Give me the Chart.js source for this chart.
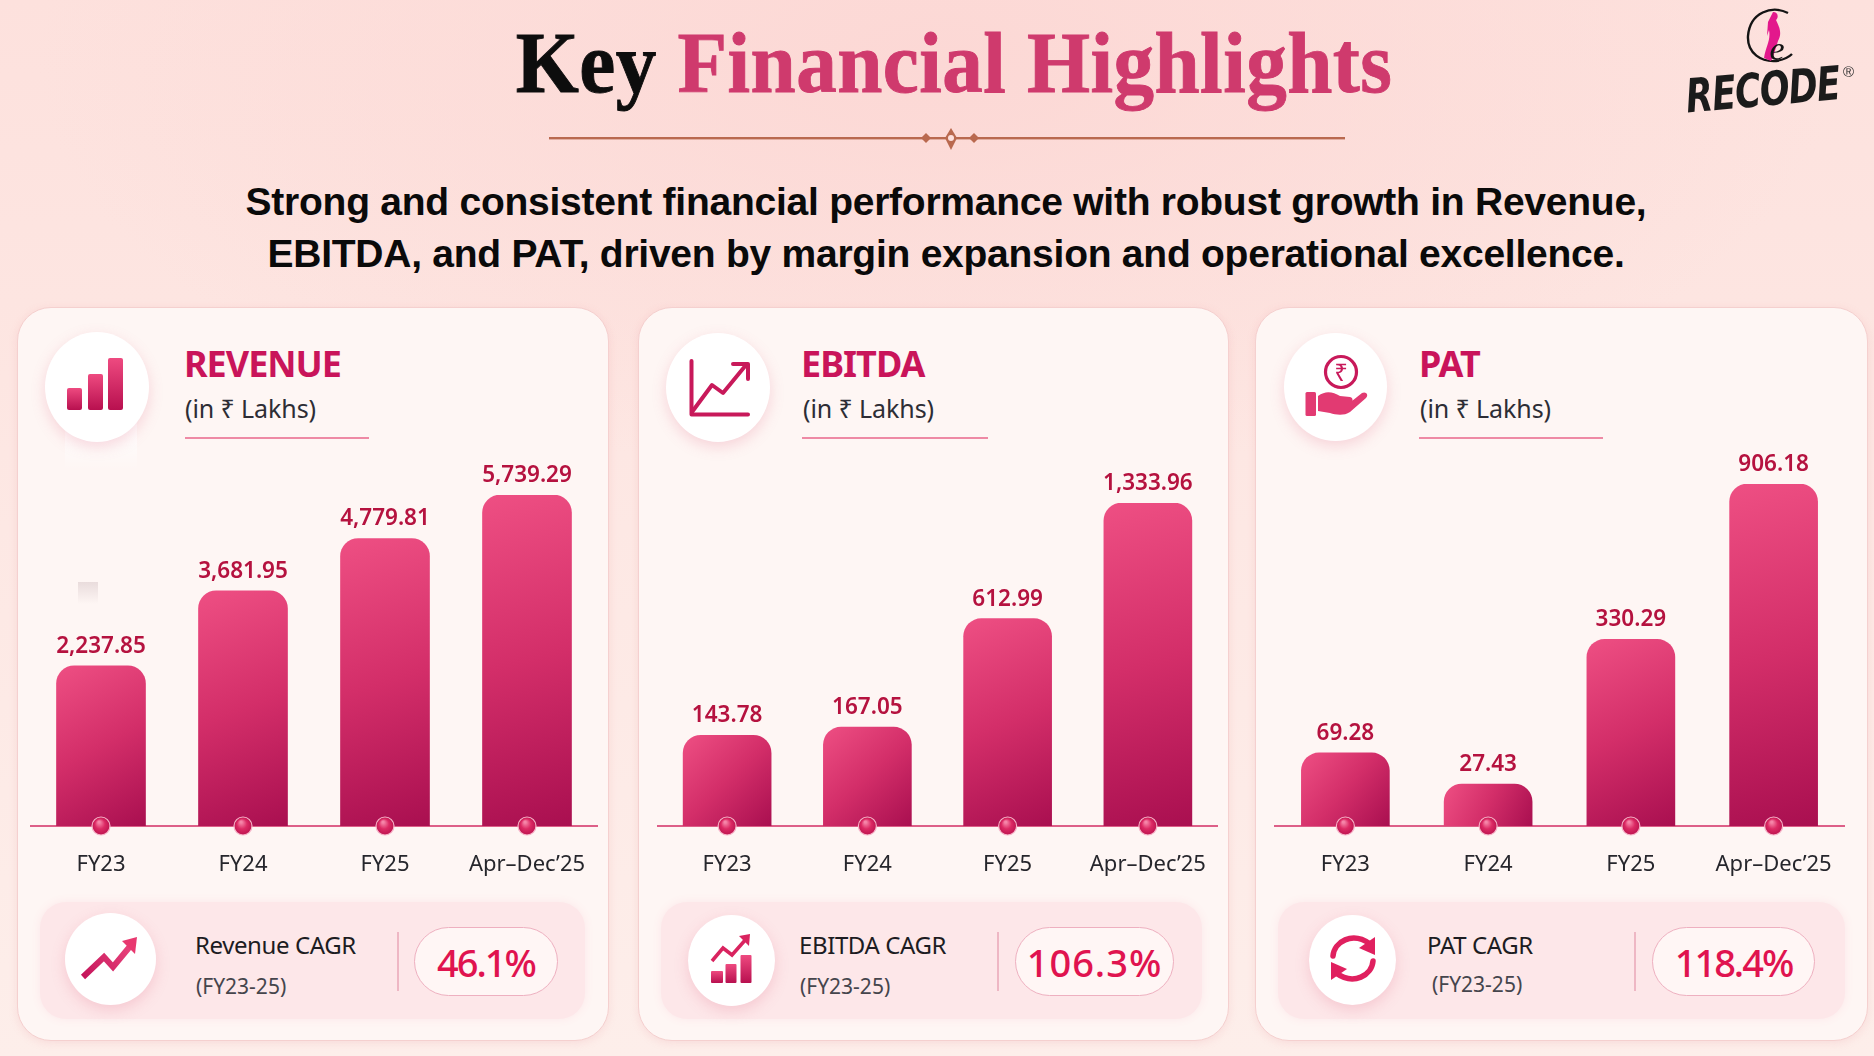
<!DOCTYPE html>
<html>
<head>
<meta charset="utf-8">
<title>Key Financial Highlights</title>
<script src="https://cdn.jsdelivr.net/npm/chart.js@4"></script>
<style>
  html, body { margin: 0; padding: 0; }
  body {
    position: relative; width: 1874px; height: 1056px; overflow: hidden;
    font-family: "Noto Sans", sans-serif;
    background:
      radial-gradient(ellipse 900px 420px at 50% 60px, #fcd8d5 0%, rgba(252,216,213,0) 100%),
      linear-gradient(180deg, #fde1dd 0%, #fde8e4 50%, #fdeeea 100%);
  }
  .abs { position: absolute; white-space: nowrap; }
  #title { left: 0; width: 1908px; top: 8px; text-align: center; font: 700 86px/110px "Liberation Serif", serif; color: #0d0d0d; letter-spacing: 0.5px; transform: scaleX(.943); -webkit-text-stroke: 0.9px currentColor; }
  #title span { color: #cf3a6d; }
  .sub { left: 0; width: 1892px; text-align: center; font: 700 39px/52px "Liberation Sans", sans-serif; color: #0a0a0a; letter-spacing: -0.25px; }
  .card { position: absolute; top: 307px; height: 734px; box-sizing: border-box; background: #fef6f4; border: 1.5px solid #f5d0cf; border-radius: 34px; box-shadow: 0 2px 8px rgba(225,140,150,.18); }
  .disc { position: absolute; background: #fff; border-radius: 50%; box-shadow: 0 5px 14px rgba(226,110,140,.25); }
  .head { font-weight: 700; font-size: 36px; line-height: 44px; top: 342px; color: #c9145a; letter-spacing: -1px; }
  .unit { font-size: 25px; line-height: 34px; top: 391px; color: #2d2d35; letter-spacing: -0.1px; }
  .rule { position: absolute; top: 437px; height: 2px; background: #ee8aa5; }
  .band { position: absolute; top: 902px; height: 117px; border-radius: 26px; background: #fde7e9; box-shadow: 0 0 10px #fde7e9; }
  .cagr { font-size: 24px; line-height: 34px; top: 928px; color: #1c1c22; letter-spacing: -0.4px; }
  .span { font-size: 21px; line-height: 30px; top: 971px; color: #45454c; }
  .sep { position: absolute; top: 932px; width: 2px; height: 59px; background: #eeb7c4; }
  .pill { position: absolute; top: 927px; height: 69px; box-sizing: border-box; border: 1.5px solid #eeb0c0; border-radius: 35px; background: #fff6f5; text-align: center; font-weight: 500; font-size: 38px; line-height: 68px; color: #e0134f; letter-spacing: -2px; }
  canvas { position: absolute; }
  svg.layer { position: absolute; left: 0; top: 0; }
</style>
</head>
<body>

<div id="title" class="abs">Key <span>Financial Highlights</span></div>
<div class="abs sub" style="top:176px">Strong and consistent financial performance with robust growth in Revenue,</div>
<div class="abs sub" style="top:228px">EBITDA, and PAT, driven by margin expansion and operational excellence.</div>

<!-- cards -->
<div class="card" style="left:17px;width:592px"></div>
<div class="card" style="left:638px;width:591px"></div>
<div class="card" style="left:1255px;width:613px"></div>

<!-- white stem under the first icon, and the small smudge next to the first bar -->
<div class="abs" style="left:65px;top:420px;width:72px;height:50px;background:linear-gradient(180deg,#fff,rgba(255,255,255,0))"></div>
<div class="abs" style="left:78px;top:582px;width:20px;height:22px;background:linear-gradient(180deg,#e9dcdc,rgba(255,246,244,0))"></div>

<div class="disc" style="left:45px;top:332px;width:104px;height:110px"></div>
<div class="disc" style="left:666px;top:333px;width:104px;height:109px"></div>
<div class="disc" style="left:1284px;top:333px;width:103px;height:108px"></div>

<div class="abs head" style="left:184px">REVENUE</div>
<div class="abs head" style="left:801px">EBITDA</div>
<div class="abs head" style="left:1419px">PAT</div>
<div class="abs unit" style="left:185px">(in ₹ Lakhs)</div>
<div class="abs unit" style="left:803px">(in ₹ Lakhs)</div>
<div class="abs unit" style="left:1420px">(in ₹ Lakhs)</div>
<div class="rule" style="left:185px;width:184px"></div>
<div class="rule" style="left:802px;width:186px"></div>
<div class="rule" style="left:1419px;width:184px"></div>

<!-- CAGR strips -->
<div class="band" style="left:40px;width:545px"></div>
<div class="band" style="left:661px;width:541px"></div>
<div class="band" style="left:1278px;width:567px"></div>
<div class="disc" style="left:65px;top:913px;width:91px;height:92px"></div>
<div class="disc" style="left:688px;top:915px;width:87px;height:91px"></div>
<div class="disc" style="left:1309px;top:915px;width:87px;height:90px"></div>
<div class="abs cagr" style="left:195px">Revenue CAGR</div>
<div class="abs cagr" style="left:799px">EBITDA CAGR</div>
<div class="abs cagr" style="left:1427px">PAT CAGR</div>
<div class="abs span" style="left:196px">(FY23-25)</div>
<div class="abs span" style="left:800px">(FY23-25)</div>
<div class="abs span" style="left:1432px;top:969px">(FY23-25)</div>
<div class="sep" style="left:397px"></div>
<div class="sep" style="left:997px"></div>
<div class="sep" style="left:1634px"></div>
<div class="pill" style="left:414px;width:144px">46.1%</div>
<div class="pill" style="left:1015px;width:159px;letter-spacing:1px">106.3%</div>
<div class="pill" style="left:1652px;width:163px">118.4%</div>

<canvas id="chartRevenue"></canvas>
<canvas id="chartEbitda"></canvas>
<canvas id="chartPat"></canvas>

<!-- ornaments, icons and logo mark -->
<svg class="layer" width="1874" height="1056" viewBox="0 0 1874 1056">
  <defs>
    <linearGradient id="pinkV" x1="0" y1="0" x2="0" y2="1"><stop offset="0" stop-color="#ee4a80"/><stop offset="1" stop-color="#b8104f"/></linearGradient>
    <linearGradient id="pinkD" gradientUnits="userSpaceOnUse" x1="82" y1="977" x2="136" y2="938"><stop offset="0" stop-color="#c4145a"/><stop offset="1" stop-color="#ee4a80"/></linearGradient>
  </defs>

  <!-- title divider -->
  <g fill="#b9694f">
    <rect x="549" y="137" width="796" height="2.4"/>
    <path d="M951 128 l6 10 -6 12 -6 -12 z"/>
    <path d="M926 133 l5 5 -5 5 -5 -5 z"/><path d="M974 133 l5 5 -5 5 -5 -5 z"/>
    <circle cx="951" cy="138" r="3" fill="#fde0dc"/>
  </g>

  <!-- revenue icon -->
  <g fill="url(#pinkV)">
    <rect x="67" y="388" width="15" height="22" rx="2"/>
    <rect x="88" y="374" width="15" height="36" rx="2"/>
    <rect x="108" y="358" width="15" height="52" rx="2"/>
  </g>
  <!-- ebitda icon -->
  <g fill="none" stroke="#c8195a" stroke-width="4" stroke-linecap="round" stroke-linejoin="round">
    <path d="M691.5 361 V414.5 H748"/>
    <path d="M692 412 L712 385 L723 393 L746 365"/>
    <path d="M733 364 H748 V379"/>
  </g>
  <!-- pat icon -->
  <circle cx="1341" cy="372" r="15.5" fill="none" stroke="#c8195a" stroke-width="3.2"/>
  <text x="1341" y="381" text-anchor="middle" font-family="Noto Sans" font-size="24" fill="#c8195a">₹</text>
  <rect x="1305.5" y="392" width="10.5" height="24" rx="1.5" fill="#e23a72"/>
  <path d="M1318 396 C1326 390 1333 392 1340 396 L1350 397 C1354 398 1353 403 1349 403 L1340 403 L1352 401 L1362 393 C1366 391 1369 395 1366 398 L1350 412 C1344 416 1336 415 1330 413 L1318 411 Z" fill="#e23a72"/>

  <!-- cagr icons -->
  <g fill="none" stroke="url(#pinkD)" stroke-width="6">
    <path d="M83 977 L104 957 L113 967 L132 944"/>
  </g>
  <path d="M122 941 L137 937 L135 954 Z" fill="#e8386f"/>

  <g fill="url(#pinkV)">
    <rect x="711" y="971" width="12" height="12" rx="1"/>
    <rect x="725.5" y="964" width="11" height="19" rx="1"/>
    <rect x="740.5" y="955" width="11" height="28" rx="1"/>
  </g>
  <path d="M712 961 L723 948 L732 955 L747 938" fill="none" stroke="#d9235f" stroke-width="3.5"/>
  <path d="M739 936 L750 934 L749 946 Z" fill="#d9235f"/>

  <g fill="none" stroke="#e0205f" stroke-width="5.5" stroke-linecap="round">
    <path d="M1333 956 C1334 942 1352 931 1370 944"/>
    <path d="M1373 961 C1372 975 1354 986 1336 973"/>
  </g>
  <path d="M1375 937 L1375 955 L1359 948 Z" fill="#e0205f"/>
  <path d="M1331 980 L1331 962 L1347 969 Z" fill="#e0205f"/>

  <!-- logo mark -->
  <path d="M1788 13 C1772 5 1750 12 1748 36 C1747 54 1762 62 1776 61 C1782 60 1788 58 1792 54" fill="none" stroke="#141414" stroke-width="2.4"/>
  <path d="M1773 12 C1778 12 1779 17 1776 20 C1780 28 1782 34 1778 41 C1775 50 1774 56 1771 61 L1764 58 C1766 46 1771 40 1769 30 L1767 36 L1768 22 Z" fill="#e3188c"/>
  <text x="1777" y="60" text-anchor="middle" font-family="Liberation Serif" font-style="italic" font-size="34" fill="#141414">e</text>
</svg>

<div class="abs" style="left:1686px;top:74px;font:italic 800 39px/46px 'DejaVu Sans',sans-serif;color:#1b1b1b;transform:rotate(-5deg) scale(.9,1.2);transform-origin:left center;letter-spacing:-1px">RECODE</div>
<div class="abs" style="left:1843px;top:64px;font:15px/16px 'Liberation Sans',sans-serif;color:#333">®</div>

<script>
// Valeurs
const categories = ['FY23', 'FY24', 'FY25', 'Apr–Dec’25'];
const revenueValues = [2237.85, 3681.95, 4779.81, 5739.29];
const ebitdaValues = [143.78, 167.05, 612.99, 1333.96];
const patValues = [69.28, 27.43, 330.29, 906.18];

// The bars of the picture do not follow a linear axis: each panel has its own exponent
class PowerScale extends Chart.LinearScale {
  static id = 'power';
  static defaults = Chart.LinearScale.defaults;
  getPixelForValue(value) {
    const ratio = Math.pow(Math.max(value, 0) / this.max, this.options.exponent);
    return this.bottom - (this.bottom - this.top) * ratio;
  }
}
Chart.register(PowerScale);

function barGradient(context) {
  const chart = context.chart;
  if (!chart.chartArea) return '#d2306a';
  const x = chart.scales.x.getPixelForValue(context.dataIndex);
  const top = chart.scales.y.getPixelForValue(context.raw);
  const g = chart.ctx.createLinearGradient(x - 44, top, x + 44, chart.chartArea.bottom);
  g.addColorStop(0, '#ee4f83');
  g.addColorStop(0.5, '#d32e69');
  g.addColorStop(1, '#a90f50');
  return g;
}

// Value above each bar, and the small bead on the baseline
const decorations = {
  id: 'decorations',
  afterDraw(chart) {
    const ctx = chart.ctx;
    const bottom = chart.chartArea.bottom;
    ctx.save();
    chart.getDatasetMeta(0).data.forEach(function (bar, i) {
      const text = chart.data.datasets[0].data[i].toLocaleString('en-US', { minimumFractionDigits: 2 });
      ctx.font = '600 22.5px "Noto Sans"';
      ctx.fillStyle = '#b5123f';
      ctx.textAlign = 'center';
      ctx.textBaseline = 'alphabetic';
      ctx.fillText(text, bar.x, bar.y - 13);

      const bead = ctx.createRadialGradient(bar.x - 2, bottom - 4, 1, bar.x, bottom, 9);
      bead.addColorStop(0, '#f585a8');
      bead.addColorStop(0.5, '#dc2a64');
      bead.addColorStop(1, '#bd1450');
      ctx.beginPath();
      ctx.arc(bar.x, bottom, 9, 0, Math.PI * 2);
      ctx.fillStyle = bead;
      ctx.fill();
      ctx.lineWidth = 1.2;
      ctx.strokeStyle = '#f6b4c8';
      ctx.stroke();
    });
    ctx.restore();
  }
};

function drawPanel(id, values, exponent, left, top, width, barWidth) {
  const canvas = document.getElementById(id);
  const bottomEdge = 890;
  canvas.style.left = left + 'px';
  canvas.style.top = (top - 40) + 'px';
  canvas.width = width;
  canvas.height = bottomEdge - (top - 40);

  new Chart(canvas, {
    type: 'bar',
    data: {
      labels: categories,
      datasets: [{
        data: values,
        backgroundColor: barGradient,
        barThickness: barWidth,
        borderRadius: 18,
        borderWidth: 0
      }]
    },
    plugins: [decorations],
    options: {
      responsive: false,
      animation: false,
      layout: { padding: { top: 40 } },
      plugins: { legend: { display: false }, tooltip: { enabled: false } },
      scales: {
        x: {
          // tickLength instead of ticks.padding, padding would shrink the chart area on the right
          grid: { display: false, drawTicks: true, tickLength: 26 },
          border: { color: '#dd5f88', width: 2 },
          afterFit: function (scale) { scale.height = 64; },
          ticks: { color: '#26262c', font: { family: 'Noto Sans', size: 22 }, padding: 0, maxRotation: 0, autoSkip: false }
        },
        y: { type: 'power', exponent: exponent, min: 0, max: Math.max(...values), display: false }
      }
    }
  });
}

drawPanel('chartRevenue', revenueValues, 0.77, 30, 495, 568, 89);
drawPanel('chartEbitda', ebitdaValues, 0.57, 657, 503, 561, 88);
drawPanel('chartPat', patValues, 0.6, 1274, 484, 571, 88);
</script>
</body>
</html>
